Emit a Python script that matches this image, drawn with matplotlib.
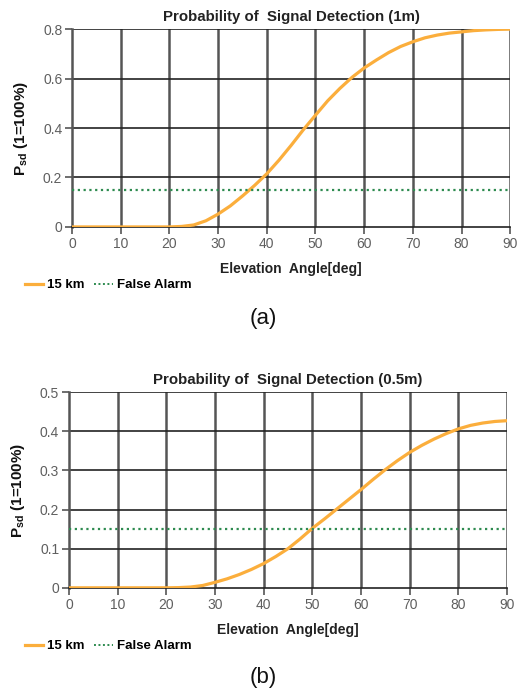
import matplotlib.pyplot as plt
from matplotlib.lines import Line2D

plt.rcParams['font.family'] = ['Liberation Sans', 'DejaVu Sans']

# elevation angle samples (deg)
angle = [0, 2.5, 5, 7.5, 10, 12.5, 15, 17.5, 20, 22.5, 25, 27.5, 30, 32.5, 35, 37.5,
         40, 42.5, 45, 47.5, 50, 52.5, 55, 57.5, 60, 62.5, 65, 67.5, 70, 72.5, 75,
         77.5, 80, 82.5, 85, 87.5, 90]

# detection probability, 15 km range, 1 m antenna
psd_1m = [0, 0, 0, 0, 0, 0, 0, 0, 0, 0.002, 0.008, 0.025, 0.052, 0.085, 0.125, 0.168,
          0.215, 0.27, 0.33, 0.393, 0.452, 0.51, 0.56, 0.605, 0.643, 0.675, 0.705, 0.73,
          0.749, 0.765, 0.776, 0.784, 0.789, 0.794, 0.797, 0.799, 0.80]

# detection probability, 15 km range, 0.5 m antenna
psd_05m = [0, 0, 0, 0, 0, 0, 0, 0, 0, 0.0005, 0.002, 0.006, 0.014, 0.023, 0.034, 0.047,
           0.062, 0.08, 0.10, 0.125, 0.152, 0.176, 0.201, 0.226, 0.251, 0.277, 0.302, 0.325,
           0.346, 0.364, 0.38, 0.394, 0.406, 0.415, 0.421, 0.425, 0.427]

false_alarm = 0.15

x_ticks = [0, 10, 20, 30, 40, 50, 60, 70, 80, 90]

orange = '#FBAE3C'
green = '#2E8B50'

fig = plt.figure(figsize=(5.26, 6.94), dpi=100)


def draw_panel(rect, y, ymax, yticks, ylabels, title, tag, legend_y, tag_y):
    ax = fig.add_axes(rect)
    ax.plot(angle, y, color=orange, lw=2.3, zorder=3, solid_capstyle='round')
    ax.plot([0, 90], [false_alarm, false_alarm], color=green, lw=1.6,
            linestyle=(0, (1, 1.6)), zorder=3)
    ax.set_xlim(0, 90)
    ax.set_ylim(0, ymax)
    ax.set_xticks(x_ticks)
    ax.set_yticks(yticks)
    ax.set_yticklabels(ylabels)
    for v in x_ticks[1:]:
        ax.axvline(v, color='#555555', lw=1.8, zorder=1)
    for v in yticks[1:]:
        ax.axhline(v, color='#222222', lw=1.2, zorder=1)
    for side in ['top', 'right']:
        ax.spines[side].set_visible(False)
    ax.spines['left'].set_color('#555555')
    ax.spines['left'].set_linewidth(1.8)
    ax.spines['bottom'].set_color('#222222')
    ax.spines['bottom'].set_linewidth(1.2)
    ax.tick_params(axis='both', colors='#555555', labelcolor='#5f5f5f',
                   labelsize=10, length=5, width=1.2, pad=2)
    ax.set_title(title, fontsize=10.8, fontweight='bold', color='#222222', pad=6)
    ax.set_xlabel('Elevation  Angle[deg]', fontsize=10, fontweight='bold',
                  color='#222222', labelpad=8)
    ax.set_ylabel(r'P$_{\mathregular{sd}}$ (1=100%)', fontsize=11,
                  fontweight='bold', color='#111111', labelpad=9)
    handles = [Line2D([], [], color=orange, lw=2.3),
               Line2D([], [], color=green, lw=1.4, linestyle=(0, (1, 1.3)))]
    fig.legend(handles, ['15 km', 'False Alarm'], loc='center left',
               bbox_to_anchor=(0.025, legend_y), ncol=2, frameon=False,
               handlelength=1.4, handletextpad=0.3, columnspacing=0.7,
               prop={'weight': 'bold', 'size': 9.5})
    fig.text(0.5, tag_y, tag, ha='center', va='center', fontsize=16,
             color='#111111')
    return ax


draw_panel([0.137, 0.673, 0.833, 0.285], psd_1m, 0.8,
           [0, 0.2, 0.4, 0.6, 0.8], ['0', '0.2', '0.4', '0.6', '0.8'],
           'Probability of  Signal Detection (1m)', '(a)',
           1 - 285 / 694, 1 - 318 / 694)

draw_panel([0.131, 0.153, 0.833, 0.282], psd_05m, 0.5,
           [0, 0.1, 0.2, 0.3, 0.4, 0.5], ['0', '0.1', '0.2', '0.3', '0.4', '0.5'],
           'Probability of  Signal Detection (0.5m)', '(b)',
           1 - 646 / 694, 1 - 678 / 694)

fig.savefig('out.png', dpi=100)
